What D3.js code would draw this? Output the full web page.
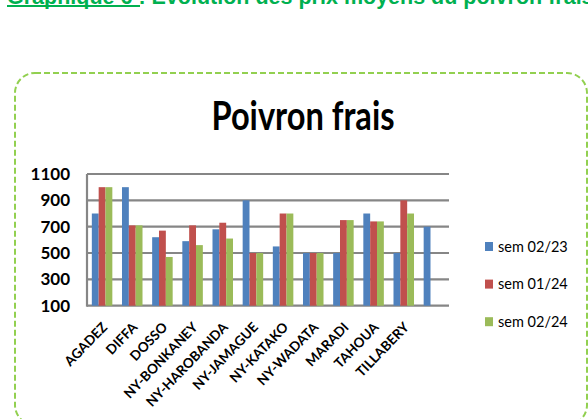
<!DOCTYPE html>
<html>
<head>
<meta charset="utf-8">
<script src="https://cdn.jsdelivr.net/npm/d3@7"></script>
<style>
  body { margin: 0; background: #fff; }
  svg { display: block; }
</style>
</head>
<body>
<script>
// prix moyens du poivron frais par marché
var marches = ['AGADEZ', 'DIFFA', 'DOSSO', 'NY-BONKANEY', 'NY-HAROBANDA', 'NY-JAMAGUE',
               'NY-KATAKO', 'NY-WADATA', 'MARADI', 'TAHOUA', 'TILLABERY', ''];
var series = ['sem 02/23', 'sem 01/24', 'sem 02/24'];
var sem0223 = [800, 1000, 620, 590, 680, 900, 550, 500, 500, 800, 500, 700];
var sem0124 = [1000, 710, 670, 710, 730, 500, 800, 500, 750, 740, 900, null];
var sem0224 = [1000, 710, 470, 560, 610, 500, 800, 500, 750, 740, 800, null];
var yTicks = [100, 300, 500, 700, 900, 1100];
var colors = ['#4f81bd', '#c0504d', '#9bbb59'];

var W = 588, H = 419;
var svg = d3.select('body').append('svg').attr('width', W).attr('height', H);

// titre du document (coupé en haut)
var head = svg.append('text')
    .attr('x', 7).attr('y', 3.5)
    .style('font-family', 'Liberation Sans, Arial, sans-serif')
    .style('font-weight', 'bold').style('font-size', '21.5px')
    .attr('fill', '#00b050');
head.append('tspan').text('Graphique 6 ');
head.append('tspan').text(': Evolution des prix moyens du poivron frais');
svg.append('line').attr('x1', 7).attr('x2', 140).attr('y1', 6).attr('y2', 6)
    .attr('stroke', '#00b050').attr('stroke-width', 1.8);

// cadre pointillé
svg.append('rect')
    .attr('x', 15).attr('y', 73).attr('width', 572).attr('height', 352)
    .attr('rx', 20).attr('ry', 20)
    .attr('fill', 'none').attr('stroke', '#92d050')
    .attr('stroke-width', 2).attr('stroke-dasharray', '6,3');

svg.append('text')
    .attr('x', 303).attr('y', 130)
    .attr('text-anchor', 'middle')
    .attr('textLength', 183).attr('lengthAdjust', 'spacingAndGlyphs')
    .style('font-family', 'Lato, sans-serif').style('font-weight', 'bold')
    .style('font-size', '41px').attr('fill', '#000')
    .text('Poivron frais');

var plot = { left: 87, right: 449, top: 174, bottom: 305.7 };

var x0 = d3.scaleBand().domain(marches)
    .range([plot.left, plot.right]).paddingInner(0.32).paddingOuter(0.16);
var x1 = d3.scaleBand().domain(series).range([0, x0.bandwidth()]);
var y = d3.scaleLinear().domain([100, 1100]).range([plot.bottom, plot.top]);

// grille
svg.append('g').selectAll('line').data(yTicks).enter().append('line')
    .attr('x1', plot.left).attr('x2', plot.right)
    .attr('y1', function(d) { return y(d); }).attr('y2', function(d) { return y(d); })
    .attr('stroke', '#868686').attr('stroke-width', 2.2);
svg.append('line')
    .attr('x1', plot.left).attr('x2', plot.left)
    .attr('y1', plot.top).attr('y2', plot.bottom + 1)
    .attr('stroke', '#868686').attr('stroke-width', 2.2);

var yAxis = svg.append('g')
    .attr('transform', 'translate(' + (plot.left - 17) + ',0)')
    .call(d3.axisLeft(y).tickValues(yTicks).tickFormat(d3.format('d')).tickSize(0).tickPadding(0));
yAxis.select('.domain').remove();
yAxis.selectAll('text')
    .style('font-family', 'Lato, sans-serif').style('font-weight', 'bold')
    .style('font-size', '17px').attr('fill', '#000');

// barres
var data = [sem0223, sem0124, sem0224];
var groups = svg.append('g').selectAll('g').data(marches).enter().append('g')
    .attr('transform', function(d) { return 'translate(' + x0(d) + ',0)'; });
groups.selectAll('rect')
    .data(function(d, i) {
        return series.map(function(s, k) { return { s: s, k: k, v: data[k][i] }; })
            .filter(function(e) { return e.v != null; });
    })
    .enter().append('rect')
    .attr('x', function(d) { return x1(d.s); })
    .attr('width', x1.bandwidth())
    .attr('y', function(d) { return y(d.v); })
    .attr('height', function(d) { return y(100) - y(d.v); })
    .attr('fill', function(d) { return colors[d.k]; });

// étiquettes des marchés
svg.append('g').selectAll('text').data(marches).enter().append('text')
    .attr('transform', function(d) {
        return 'translate(' + (x0(d) + x0.bandwidth() / 2 + 6) + ',328) rotate(-46)';
    })
    .attr('text-anchor', 'end')
    .style('font-family', 'Lato, sans-serif').style('font-weight', 'bold')
    .style('font-size', '13.5px').attr('fill', '#000')
    .text(function(d) { return d; });

// légende
var leg = svg.append('g').selectAll('g').data(series).enter().append('g')
    .attr('transform', function(d, i) { return 'translate(485,' + (246.5 + i * 37.6) + ')'; });
leg.append('rect').attr('x', 0).attr('y', -4.5).attr('width', 8).attr('height', 9)
    .attr('fill', function(d, i) { return colors[i]; });
leg.append('text').attr('x', 13).attr('y', 5)
    .style('font-family', 'Lato, sans-serif').style('font-size', '14.5px')
    .attr('fill', '#000')
    .text(function(d) { return d; });
</script>
</body>
</html>
